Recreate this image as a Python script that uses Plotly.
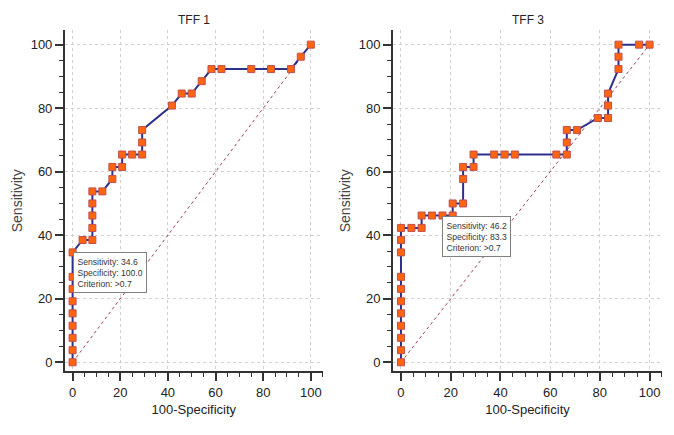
import plotly.graph_objects as go

# ---- data ----
tff1_fpr = [0, 0, 0, 0, 0, 0, 0, 0, 0, 4.2, 8.3, 8.3, 8.3, 8.3, 8.3, 12.5, 16.7, 16.7,
            20.8, 20.8, 25.0, 29.2, 29.2, 29.2, 41.7, 45.8, 50.0, 54.2, 58.3, 62.5,
            75.0, 83.3, 91.7, 95.8, 100]
tff1_sens = [0, 3.8, 7.7, 11.5, 15.4, 19.2, 23.1, 26.9, 34.6, 38.5, 38.5, 42.3, 46.2,
             50.0, 53.8, 53.8, 57.7, 61.5, 61.5, 65.4, 65.4, 65.4, 69.2, 73.1, 80.8,
             84.6, 84.6, 88.5, 92.3, 92.3, 92.3, 92.3, 92.3, 96.2, 100]

tff3_fpr = [0, 0, 0, 0, 0, 0, 0, 0, 0, 0, 0, 4.2, 8.3, 8.3, 12.5, 16.7, 20.8, 20.8,
            25.0, 25.0, 25.0, 29.2, 29.2, 37.5, 41.7, 45.8, 62.5, 66.7, 66.7, 66.7,
            70.8, 79.2, 83.3, 83.3, 83.3, 87.5, 87.5, 87.5, 95.8, 100]
tff3_sens = [0, 3.8, 7.7, 11.5, 15.4, 19.2, 23.1, 26.9, 34.6, 38.5, 42.3, 42.3, 42.3,
             46.2, 46.2, 46.2, 46.2, 50.0, 50.0, 57.7, 61.5, 61.5, 65.4, 65.4, 65.4,
             65.4, 65.4, 65.4, 69.2, 73.1, 73.1, 76.9, 76.9, 80.8, 84.6, 92.3, 96.2,
             100, 100, 100]

titles = ["TFF 1", "TFF 3"]
crit_sens = [34.6, 46.2]
crit_spec = [100.0, 83.3]
crit_label = [">0.7", ">0.7"]
diag = [0, 100]
tick_vals = [0, 20, 40, 60, 80, 100]

FONT = "Liberation Sans, Arial, sans-serif"
LINE_COL = "#2e2e8c"
MARK_COL = "#ff6410"
MARK_EDGE = "#c0504d"
AX_COL = "#333333"

fig = go.Figure()

series = [(tff1_fpr, tff1_sens), (tff3_fpr, tff3_sens)]
xdoms = [[0.0964, 0.4788], [0.5831, 0.9822]]
ydom = [0.146, 0.931]

for i, (fx, sy) in enumerate(series):
    xa = "x" if i == 0 else "x2"
    ya = "y" if i == 0 else "y2"
    fig.add_trace(go.Scatter(x=diag, y=diag, mode="lines", xaxis=xa, yaxis=ya,
                             line=dict(color="#a0404a", width=1, dash="dot"),
                             showlegend=False, hoverinfo="skip"))
    fig.add_trace(go.Scatter(x=fx, y=sy, mode="lines+markers", xaxis=xa, yaxis=ya,
                             line=dict(color=LINE_COL, width=2),
                             marker=dict(symbol="square", size=7, color=MARK_COL,
                                         line=dict(color=MARK_EDGE, width=1)),
                             showlegend=False))

common_axis = dict(
    showline=True, linewidth=2, linecolor=AX_COL, mirror=False,
    ticks="outside", ticklen=8, tickwidth=1.5, tickcolor=AX_COL,
    tickmode="array", tickvals=tick_vals,
    showgrid=True, gridcolor="#d0d0d0", gridwidth=1, griddash="dot",
    zeroline=False,
    minor=dict(dtick=5, tick0=0, ticks="outside", ticklen=4, tickwidth=1,
               tickcolor=AX_COL, showgrid=False),
    tickfont=dict(family=FONT, size=13, color="#222222"),
)

layout = dict(
    width=674, height=435,
    margin=dict(l=0, r=0, t=0, b=0),
    paper_bgcolor="white", plot_bgcolor="white",
    showlegend=False,
)

for i in range(2):
    sx = "" if i == 0 else "2"
    xa_cfg = dict(common_axis)
    xa_cfg.update(domain=xdoms[i], range=[-3.2, 105], anchor="y" + sx,
                  title=dict(text="100-Specificity", standoff=6,
                             font=dict(family=FONT, size=13, color="#222222")))
    ya_cfg = dict(common_axis)
    ya_cfg.update(domain=ydom, range=[-2.9, 104.6], anchor="x" + sx,
                  title=dict(text="Sensitivity", standoff=5,
                             font=dict(family=FONT, size=14, color="#444444")))
    layout["xaxis" + sx] = xa_cfg
    layout["yaxis" + sx] = ya_cfg

fig.update_layout(**layout)

annotations = []
for i in range(2):
    sx = "" if i == 0 else "2"
    annotations.append(dict(
        xref="paper", yref="paper",
        x=(xdoms[i][0] + xdoms[i][1]) / 2, y=1 - 20 / 435,
        xanchor="center", yanchor="middle", showarrow=False,
        text=titles[i], font=dict(family=FONT, size=12, color="#222222")))
    annotations.append(dict(
        xref="x" + sx, yref="y" + sx,
        x=100 - crit_spec[i], y=crit_sens[i],
        xanchor="left", yanchor="top", showarrow=False, align="left",
        text=(f"Sensitivity: {crit_sens[i]:.1f}<br>Specificity: {crit_spec[i]:.1f}"
              f"<br>Criterion: {crit_label[i]}"),
        font=dict(family=FONT, size=8.6, color="#333333"),
        bgcolor="white", bordercolor="#808080", borderwidth=1, borderpad=3.5))

fig.update_layout(annotations=annotations)

fig.write_html("out.html",
               config={"displayModeBar": False},
               post_script="document.body.style.margin='0';document.body.style.overflow='hidden';")
